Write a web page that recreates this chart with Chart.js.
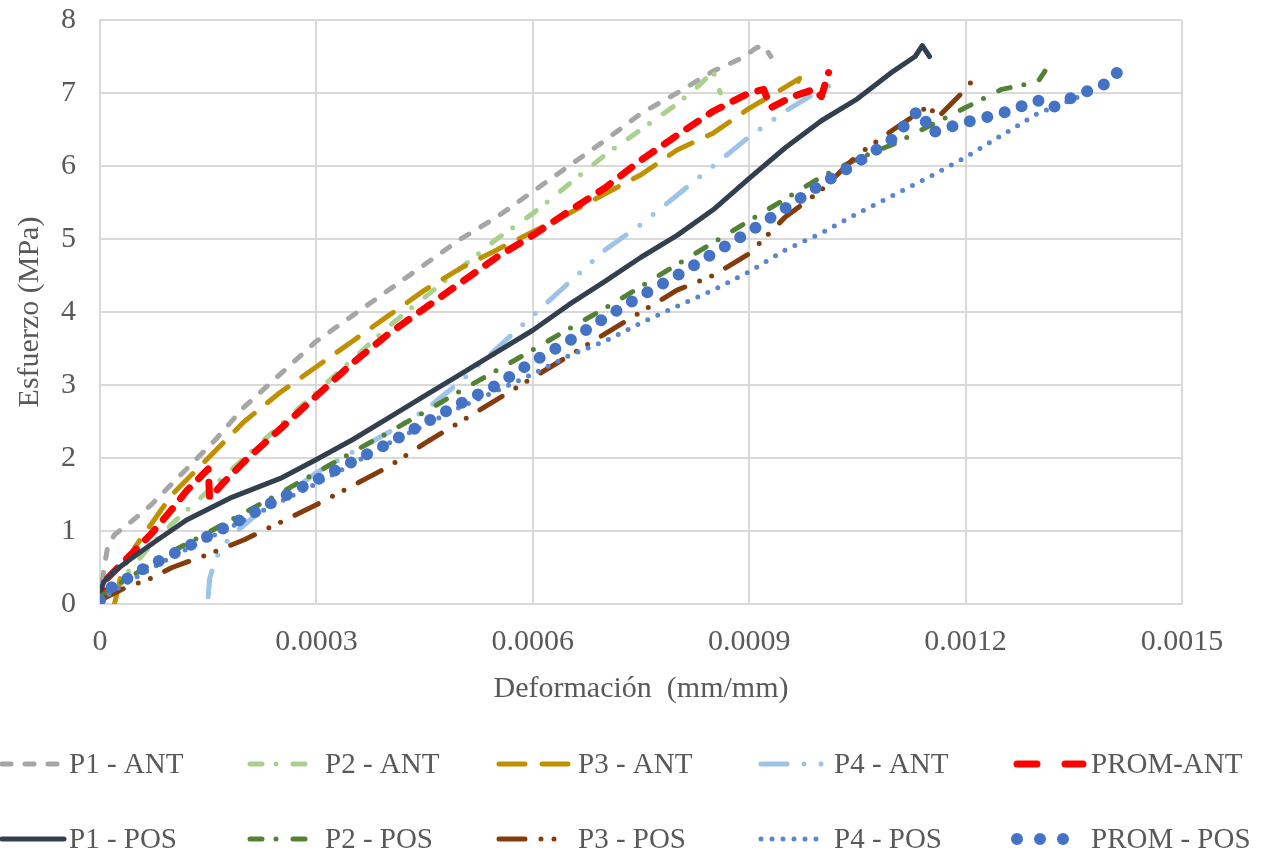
<!DOCTYPE html>
<html>
<head>
<meta charset="utf-8">
<script src="https://cdn.jsdelivr.net/npm/chart.js@4/dist/chart.umd.min.js"></script>
<style>
  html, body { margin: 0; padding: 0; background: #fff; }
  #wrap { width: 1268px; height: 852px; position: relative; }
</style>
</head>
<body>
<div id="wrap"><canvas id="myChart"></canvas></div>
<script>
// series names
var seriesNames = ["P1 - ANT", "P2 - ANT", "P3 - ANT", "P4 - ANT", "PROM-ANT",
                   "P1 - POS", "P2 - POS", "P3 - POS", "P4 - POS", "PROM - POS"];

// [deformacion, esfuerzo]
var p1Ant = [[0,0],[0.000005,0.45],[0.00001,0.75],[0.00002,0.95],[0.00004,1.1],[0.00007,1.35],[0.0001,1.65],
  [0.00013,1.95],[0.00016,2.25],[0.0002,2.7],[0.00025,3.15],[0.0003,3.6],[0.00035,3.95],[0.0004,4.3],
  [0.00045,4.65],[0.0005,5.0],[0.00055,5.3],[0.0006,5.65],[0.00065,6.0],[0.0007,6.35],[0.00075,6.72],
  [0.0008,7.0],[0.00085,7.3],[0.00089,7.48],[0.00091,7.62],[0.00092,7.65],[0.00093,7.5]];
var p2Ant = [[0.00002,0.15],[0.00004,0.45],[0.00007,0.8],[0.0001,1.1],[0.00015,1.55],[0.0002,2.0],
  [0.00025,2.45],[0.0003,2.9],[0.00035,3.35],[0.0004,3.8],[0.00045,4.2],[0.0005,4.6],[0.00055,5.0],
  [0.0006,5.35],[0.00065,5.75],[0.0007,6.15],[0.00075,6.5],[0.0008,6.85],[0.00083,7.1],[0.00085,7.3],[0.00086,7.0]];
var p3Ant = [[0.00002,0],[0.000025,0.2],[0.00003,0.45],[0.00005,0.8],[0.0001,1.5],[0.00015,2.0],[0.0002,2.5],
  [0.00025,2.9],[0.0003,3.25],[0.00035,3.6],[0.0004,3.95],[0.00045,4.3],[0.0005,4.6],[0.00055,4.85],
  [0.0006,5.1],[0.00065,5.35],[0.0007,5.62],[0.00075,5.88],[0.0008,6.22],[0.00085,6.45],[0.0009,6.79],
  [0.00095,7.08],[0.00097,7.2],[0.00096,7.0]];
var p4Ant = [[0.00015,0.1],[0.000152,0.35],[0.00016,0.6],[0.00017,0.8],[0.00019,1.0],[0.00022,1.25],
  [0.00026,1.5],[0.0003,1.8],[0.00035,2.08],[0.0004,2.35],[0.00045,2.65],[0.0005,3.05],[0.00055,3.5],
  [0.0006,3.95],[0.00065,4.4],[0.0007,4.85],[0.00075,5.2],[0.0008,5.6],[0.00085,6.0],[0.0009,6.4],
  [0.00095,6.75],[0.001,7.05],[0.00101,7.2],[0.00101,7.0]];
var promAnt = [[0,0],[0.00001,0.35],[0.00002,0.45],[0.00004,0.65],[0.00007,0.95],[0.0001,1.3],[0.00012,1.55],
  [0.00014,1.75],[0.00015,1.85],[0.000152,1.45],[0.00017,1.65],[0.0002,1.95],[0.00025,2.4],[0.0003,2.85],
  [0.00035,3.3],[0.0004,3.7],[0.00045,4.05],[0.0005,4.4],[0.00055,4.75],[0.0006,5.05],[0.00065,5.38],
  [0.0007,5.7],[0.00075,6.08],[0.0008,6.42],[0.00085,6.75],[0.0009,7.0],[0.00092,7.05],[0.00093,6.8],
  [0.00096,6.95],[0.00099,7.05],[0.001,6.95],[0.00101,7.28]];
var p1Pos = [[0,0.15],[0.000005,0.3],[0.00002,0.45],[0.00004,0.6],[0.00008,0.88],[0.00012,1.15],[0.00018,1.45],
  [0.00025,1.72],[0.0003,1.98],[0.00035,2.25],[0.0004,2.55],[0.00045,2.85],[0.0005,3.15],[0.00055,3.45],
  [0.0006,3.75],[0.00065,4.1],[0.0007,4.42],[0.00075,4.75],[0.0008,5.05],[0.00085,5.4],[0.0009,5.83],
  [0.00095,6.25],[0.001,6.62],[0.00105,6.92],[0.0011,7.3],[0.00113,7.5],[0.00114,7.65],[0.00115,7.5]];
var p2Pos = [[0,0.1],[0.00003,0.3],[0.0001,0.72],[0.00015,0.98],[0.0002,1.25],[0.00025,1.52],[0.0003,1.8],
  [0.00035,2.08],[0.0004,2.35],[0.00045,2.63],[0.0005,2.92],[0.00055,3.2],[0.0006,3.48],[0.00065,3.77],
  [0.0007,4.05],[0.00075,4.35],[0.0008,4.65],[0.00085,4.95],[0.0009,5.25],[0.00095,5.55],[0.001,5.85],
  [0.00105,6.1],[0.0011,6.3],[0.00115,6.55],[0.0012,6.8],[0.00125,7.05],[0.0013,7.15],[0.00131,7.3]];
var p3Pos = [[0,0.05],[0.00003,0.2],[0.00007,0.35],[0.0001,0.5],[0.00015,0.68],[0.0002,0.88],[0.00025,1.12],
  [0.0003,1.36],[0.00035,1.62],[0.0004,1.88],[0.00045,2.2],[0.0005,2.5],[0.00055,2.8],[0.0006,3.1],
  [0.00065,3.4],[0.0007,3.7],[0.00075,4.0],[0.0008,4.3],[0.00085,4.5],[0.0009,4.8],[0.00095,5.3],
  [0.001,5.67],[0.00105,6.15],[0.0011,6.5],[0.00115,6.83],[0.00116,6.65],[0.0012,7.05],[0.00121,7.18]];
var p4Pos = [[0,0.05],[0.00003,0.25],[0.0001,0.65],[0.00015,0.9],[0.0002,1.15],[0.00025,1.4],[0.0003,1.65],
  [0.00035,1.92],[0.0004,2.2],[0.00045,2.45],[0.0005,2.7],[0.00055,2.92],[0.0006,3.15],[0.00065,3.4],
  [0.0007,3.6],[0.00075,3.85],[0.0008,4.08],[0.00085,4.3],[0.0009,4.55],[0.00095,4.85],[0.001,5.08],
  [0.00105,5.35],[0.0011,5.6],[0.00115,5.85],[0.0012,6.12],[0.00125,6.42],[0.0013,6.72],[0.00135,6.92],[0.00138,7.05]];
var promPos = [[0,0.05],[0.00001,0.2],[0.00003,0.3],[0.00006,0.48],[0.0001,0.68],[0.00015,0.93],[0.0002,1.18],
  [0.00025,1.45],[0.0003,1.7],[0.00035,1.95],[0.0004,2.2],[0.00045,2.48],[0.0005,2.75],[0.00055,3.0],
  [0.0006,3.32],[0.00065,3.6],[0.0007,3.92],[0.00075,4.22],[0.0008,4.5],[0.00085,4.8],[0.0009,5.1],
  [0.00095,5.42],[0.001,5.75],[0.00105,6.05],[0.0011,6.38],[0.00113,6.72],[0.00114,6.75],[0.00115,6.45],
  [0.0012,6.6],[0.00125,6.72],[0.0013,6.9],[0.00132,6.8],[0.00135,6.95],[0.0014,7.15],[0.00141,7.28]];

var xTicks = [0, 0.0003, 0.0006, 0.0009, 0.0012, 0.0015];
var xTickLabels = ["0", "0.0003", "0.0006", "0.0009", "0.0012", "0.0015"];
var yTicks = [0, 1, 2, 3, 4, 5, 6, 7, 8];

var allSeries = [p1Ant, p2Ant, p3Ant, p4Ant, promAnt, p1Pos, p2Pos, p3Pos, p4Pos, promPos];

// line styles (Excel-like); legendDash only where the sample differs from the plot
var styles = [
  { color: "#A6A6A6", width: 5, dash: [9, 14] },
  { color: "#A9D18E", width: 5, dash: [12, 14, 0, 17] },
  { color: "#BF9000", width: 5, dash: [26, 17] },
  { color: "#9DC3E6", width: 5, dash: [26, 17, 0, 17, 0, 17] },
  { color: "#FF0000", width: 7, dash: [14, 13], legendDash: [20, 28] },
  { color: "#323F4F", width: 5, dash: [] },
  { color: "#548235", width: 5, dash: [12, 14, 0, 17] },
  { color: "#843C0C", width: 5, dash: [26, 16, 0, 13, 0, 16] },
  { color: "#5A86D0", width: 5, dash: [0, 11] },
  { color: "#4472C4", width: 12, dash: [0, 18], legendDash: [0, 23] }
];

var FONT = "'Liberation Serif', 'Times New Roman', serif";
var TEXT = "#595959";

function toPoints(arr) {
  return arr.map(function (p) { return { x: p[0], y: p[1] }; });
}

var datasets = allSeries.map(function (s, i) {
  return {
    label: seriesNames[i],
    data: toPoints(s),
    showLine: true,
    borderColor: styles[i].color,
    backgroundColor: styles[i].color,
    borderWidth: styles[i].width,
    borderDash: styles[i].dash,
    borderCapStyle: "round",
    borderJoinStyle: "round",
    pointRadius: 0,
    pointHoverRadius: 0,
    tension: 0,
    order: allSeries.length - i
  };
});

// legend laid out in a 5 column grid, like the original
var legendCols = [
  { x0: 2, x1: 64, tx: 69 },
  { x0: 250, x1: 308, tx: 325 },
  { x0: 499, x1: 570, tx: 578 },
  { x0: 761, x1: 822, tx: 834 },
  { x0: 1017, x1: 1083, tx: 1091 }
];
var legendRows = [764, 839];

var gridLegend = {
  id: "gridLegend",
  afterDraw: function (chart) {
    var ctx = chart.ctx;
    chart.data.datasets.forEach(function (ds, i) {
      var col = legendCols[i % 5];
      var y = legendRows[Math.floor(i / 5)];
      ctx.save();
      ctx.strokeStyle = ds.borderColor;
      ctx.lineWidth = ds.borderWidth;
      ctx.lineCap = "round";
      ctx.setLineDash(styles[i].legendDash || ds.borderDash);
      ctx.beginPath();
      ctx.moveTo(col.x0, y);
      ctx.lineTo(col.x1, y);
      ctx.stroke();
      ctx.setLineDash([]);
      ctx.fillStyle = TEXT;
      ctx.font = "29px " + FONT;
      ctx.textBaseline = "middle";
      ctx.fillText(ds.label, col.tx, y + 1);
      ctx.restore();
    });
  }
};

var myChart = new Chart(document.getElementById("myChart"), {
  type: "scatter",
  data: { datasets: datasets },
  plugins: [gridLegend],
  options: {
    responsive: true,
    maintainAspectRatio: false,
    animation: false,
    layout: { padding: { left: 12, top: 0, right: 86, bottom: 145 } },
    plugins: {
      legend: { display: false },
      tooltip: { enabled: false }
    },
    scales: {
      x: {
        type: "linear",
        min: 0,
        max: 0.0015,
        afterBuildTicks: function (axis) {
          axis.ticks = xTicks.map(function (v) { return { value: v }; });
        },
        ticks: {
          color: TEXT,
          font: { family: FONT, size: 30 },
          padding: 20,
          maxRotation: 0,
          callback: function (v, idx) { return xTickLabels[idx]; }
        },
        grid: { color: "#D9D9D9", lineWidth: 2, drawTicks: false },
        border: { color: "#D9D9D9", width: 2 },
        title: {
          display: true,
          text: "Deformación  (mm/mm)",
          color: TEXT,
          font: { family: FONT, size: 30 },
          padding: { top: -9, bottom: 0 }
        }
      },
      y: {
        min: 0,
        max: 8,
        afterBuildTicks: function (axis) {
          axis.ticks = yTicks.map(function (v) { return { value: v }; });
        },
        // keep the top of the plot close to the canvas edge, as in the original
        afterFit: function (axis) {
          axis.paddingTop = 20;
        },
        ticks: {
          color: TEXT,
          font: { family: FONT, size: 30 },
          padding: 24,
          autoSkip: false
        },
        grid: { color: "#D9D9D9", lineWidth: 2, drawTicks: false },
        border: { color: "#D9D9D9", width: 2 },
        title: {
          display: true,
          text: "Esfuerzo (MPa)",
          color: TEXT,
          font: { family: FONT, size: 30 },
          padding: { top: 0, bottom: -11 }
        }
      }
    }
  }
});
</script>
</body>
</html>
